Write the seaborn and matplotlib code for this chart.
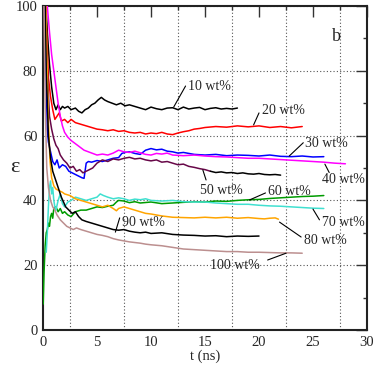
import matplotlib
matplotlib.use("Agg")
import matplotlib.pyplot as plt
import seaborn as sns
import pandas as pd

# ---- data ----
t10 = [0.05,0.2,0.4,0.6,0.8,1.0,1.2,1.4,1.6,1.8,2.0,2.3,2.6,3.0,3.3,3.6,3.9,4.2,4.5,4.8,5.1,5.4,5.7,6.0,6.4,6.8,7.2,7.6,8.0,8.5,9.0,9.5,10,10.5,11,11.5,12,12.5,13,13.5,14,14.5,15,15.5,16,16.5,17,17.5,18]
e10 = [125,105,92,82,75,70,68,69.5,68,69,68.5,69,68,68.5,67.5,67,68,68.5,69.5,70,71,71.8,71,70.5,70,69.5,70,69.2,69.5,69,68.5,68,68.8,68.3,68,68.5,68.6,68,68.8,68.2,68.5,68.7,68,68.4,68.6,68.2,68.4,68.2,68.5]

t20 = [0.1,0.3,0.5,0.7,0.9,1.1,1.3,1.5,1.7,2.0,2.3,2.6,3.0,3.5,4.0,4.5,5.0,5.5,6.0,6.5,7.0,7.5,8.0,8.5,9.0,9.5,10,10.5,11,11.5,12,12.5,13,13.5,14,14.5,15,16,17,18,19,20,21,22,23,24]
e20 = [120,95,78,72,68,65,66,67,64.5,65,64,65,64,63.5,63,62.5,62,61.8,61.5,61.8,61.3,61.5,61,60.8,61,60.5,60.8,60.6,61,60.5,60.3,60.8,61.2,61.5,62,62.2,62.5,62.8,62.6,63,62.7,63,62.5,62.8,62.4,62.8]

t30 = [0.1,0.2,0.3,0.4,0.5,0.7,0.9,1.1,1.3,1.5,1.8,2.1,2.4,2.7,3.0,3.3,3.6,3.8,4.0,4.2,4.5,5.0,5.5,6.0,6.5,7.0,7.3,7.6,8.0,8.5,9.0,9.5,10,10.5,11,11.5,12,12.5,13,14,15,16,17,18,19,20,21,22,23,24,25,26]
e30 = [115,95,75,62,58,55,52,51,52.5,50,51,50.5,49,48.5,48,47.5,47,46.8,51.5,52,51.8,52.3,52,52.5,53,53.2,54.5,54.8,55,54.5,54.2,55.5,56,55.6,55.8,55.2,55,54.6,54.8,54.2,54,54.2,53.8,54,53.9,53.7,54,53.6,53.5,53.7,53.4,53.5]

t40 = [0.2,0.4,0.6,0.8,1.0,1.2,1.4,1.6,1.8,2.0,2.3,2.6,3.0,3.4,3.8,4.2,4.6,5.0,5.5,6.0,6.5,7.0,7.5,8.0,8.5,9.0,9.5,10,10.5,11,11.5,12,13,14,15,16,17,18,19,20,21,22,23,24,25,26,27,28]
e40 = [110,100,92,85,80,75,70,66,63,61,59.5,58.5,57.5,56.5,55.5,55,54.5,54,54.3,54,54.6,55.5,55,54.8,55.2,54.7,54.2,54,54.5,54.3,54.6,54,53.8,54,53.7,53.5,53.4,53.2,53,53,52.8,52.6,52.4,52.2,52,51.8,51.5,51.3]

t50a = [0.2,0.4,0.6,0.8,1.0,1.2,1.4,1.6,1.9,2.2,2.5,2.8,3.1,3.4,3.7,4.0,4.3,4.6,5.0,5.5,6.0,6.5,7.0,7.5,8.0,8.5,9.0,9.5,10,10.5,11,11.5,12,12.5,13,13.5,14,14.5,15,15.5]
e50a = [105,80,66,62,59,57,56,54,52.5,51.5,50,50.5,49,49.5,48.5,49,49.5,50,51.5,52.5,52,52.8,52.5,53,53.3,52.8,53,52.5,52.2,52.5,51.8,52,51.5,51,51.2,50.5,50.2,49.8,49.5,49]
t50b = [15.5,16,16.5,17,17.5,18,18.5,19,19.5,20,20.5,21,21.5,22]
e50b = [49,48.6,48.8,48.5,48.6,48.3,48.5,48.2,48.1,48.3,48,47.9,48,47.8]

t60 = [0.02,0.1,0.2,0.3,0.4,0.5,0.6,0.7,0.8,0.9,1.0,1.2,1.4,1.6,1.8,2.0,2.3,2.6,3.0,3.5,4.0,4.5,5.0,5.5,6.0,6.5,6.8,7.0,7.5,8.0,8.5,9.0,10,11,12,13,14,15,16,17,18,19,20,21,22,23,24,25,26]
e60 = [8,18,26,30,31,33,32,35,36,34.5,37.5,38,36.5,37.5,36,36.5,35.5,35,36.5,37,37,37.5,38,37.8,38.2,38.5,39.5,40,39.8,39.3,39.6,39.2,39.5,39,39.2,39.4,39.6,39.5,39.8,39.7,40,40.2,40.3,40.6,40.8,41,41.2,41.3,41.5]

t70 = [0.3,0.4,0.5,0.6,0.7,0.8,0.9,1.0,1.1,1.2,1.4,1.6,1.8,2.0,2.3,2.6,3.0,3.5,4.0,4.5,5.0,5.3,5.6,6.0,6.5,7.0,7.5,8.0,8.5,9.0,9.5,10,11,12,13,14,15,16,17,18,19,20,21,22,23,24,25,26]
e70 = [24,30,38,44,46,42,44,40,38,37,40,42,39,38,39.5,40,41,40.5,40,40.5,41,42,41.5,41,40.5,40.8,40.5,40,40.4,40.2,40.5,40,39.8,40,39.6,39.5,39.5,39.2,39,38.8,38.8,38.5,38.3,38.2,38,37.8,37.6,37.5]

t80 = [0.2,0.35,0.5,0.65,0.8,1.0,1.2,1.5,1.8,2.0,2.5,3.0,3.5,4.0,4.5,5.0,5.5,6.0,6.5,6.8,7.0,7.5,8.0,8.5,9.0,9.5,10,10.5,11,12,13,14,15,16,17,18,19,20,20.5,21,21.5,21.8]
e80 = [110,85,65,52,47,44.5,43.5,43,42.5,42,41.5,40.5,40,39.5,39,38.5,38,38.5,37.5,36.8,37.5,38,37.5,37,36.5,36,35.8,35.5,35.2,34.8,34.7,34.6,34.8,34.6,34.8,34.5,34.7,34.4,34.3,34.5,34.6,34.2]

t90 = [0.1,0.3,0.5,0.7,0.9,1.1,1.3,1.5,1.7,1.9,2.1,2.4,2.7,3.0,3.3,3.6,4.0,4.5,5.0,5.5,6.0,6.5,7.0,7.5,8.0,8.5,9.0,9.5,10,11,12,13,14,15,16,17,18,19,20]
e90 = [120,80,60,53,49,47,45,43,41,39.5,38,37,36,36.5,35,34,33.5,33,32.5,32,31.5,31,30.8,31,30.5,30.2,30,30.2,29.8,30,29.5,29.3,29.2,29,29.1,28.8,29,28.9,29]

t100 = [0.05,0.2,0.35,0.5,0.7,0.9,1.1,1.3,1.6,1.9,2.2,2.5,2.8,3.1,3.5,4.0,4.5,5.0,5.5,6.0,6.5,7.0,7.5,8.0,8.5,9.0,9.5,10,11,12,13,14,15,16,17,18,19,20,21,22,23,24]
e100 = [110,70,50,44,40,38,37,35.5,34,33,32,31.5,31,31.5,31,30.5,30,29.5,29.2,28.8,28.2,27.8,27.5,27.2,27,26.8,26.5,26.3,26,25.5,25,24.8,24.6,24.4,24.2,24.2,24,24,23.9,23.8,23.8,23.7]

series = [
    (t10, e10, "#000000"),
    (t20, e20, "#ff0000"),
    (t30, e30, "#0000ff"),
    (t40, e40, "#ff00ff"),
    (t50a, e50a, "#670748"),
    (t50b, e50b, "#000000"),
    (t60, e60, "#009b00"),
    (t70, e70, "#40e0d0"),
    (t80, e80, "#ffa500"),
    (t90, e90, "#000000"),
    (t100, e100, "#bc8f8f"),
]

labels = ["10 wt%", "20 wt%", "30 wt%", "40 wt%", "50 wt%", "60 wt%",
          "70 wt%", "80 wt%", "90 wt%", "100 wt%"]
# label text position, leader start, leader end (data units)
label_pos = [(13.4, 75.3), (20.3, 67.8), (24.3, 57.5), (25.8, 46.3), (14.5, 43.2),
             (20.8, 42.9), (25.8, 33.3), (24.2, 27.5), (7.3, 33.3), (15.5, 20.0)]
leader_a = [(12.1, 68.8), (19.5, 63.3), (22.8, 53.7), (26.1, 51.2), (14.8, 49.4),
            (19.1, 40.1), (25.0, 37.3), (21.9, 33.3), (6.7, 30.2), (22.5, 23.7)]
leader_b = [(13.2, 75.3), (20.0, 67.0), (24.1, 57.8), (26.5, 48.6), (15.1, 46.3),
            (20.6, 42.3), (25.6, 34.0), (23.9, 28.7), (7.1, 34.6), (20.8, 21.6)]

sns.set_theme(style="white")
plt.rcParams["font.family"] = ["Liberation Serif", "DejaVu Serif"]
plt.rcParams["mathtext.fontset"] = "stix"

fig = plt.figure(figsize=(3.76, 3.66), dpi=100)
ax = fig.add_axes([43/376, 1-330/366, 324/376, 324/366])

for t, e, c in series:
    df = pd.DataFrame({"t": t, "e": e})
    sns.lineplot(data=df, x="t", y="e", color=c, linewidth=1.1, ax=ax,
                 estimator=None, sort=False, zorder=3)

for lab, p, a, b in zip(labels, label_pos, leader_a, leader_b):
    ax.plot([a[0], b[0]], [a[1], b[1]], color="black", lw=0.8, zorder=4)
    ax.text(p[0], p[1], lab, fontsize=10, ha="left", va="center", zorder=5,
            clip_on=False)

ax.text(27.2, 90.7, "b", fontsize=13, ha="center", va="center")

ax.set_xlim(0, 30)
ax.set_ylim(0, 100)
ax.set_xticks([0, 5, 10, 15, 20, 25, 30])
ax.set_yticks([0, 20, 40, 60, 80, 100])
ax.set_xticks([2.5, 7.5, 12.5, 17.5, 22.5, 27.5], minor=True)
ax.set_yticks([10, 30, 50, 70, 90], minor=True)
ax.tick_params(which="major", direction="in", length=8, width=1.0,
               top=True, right=True, labelsize=10.5, pad=4, color="#333333")
ax.tick_params(which="minor", direction="in", length=3, width=1.0,
               top=True, right=True, color="#333333")
ax.xaxis.grid(True, which="minor", linestyle=(0, (1, 2)), color="#555555", lw=0.8)
ax.yaxis.grid(True, which="major", linestyle=(0, (1, 2)), color="#555555", lw=0.8)
ax.xaxis.grid(False, which="major")
ax.set_axisbelow(True)
for s in ax.spines.values():
    s.set_linewidth(1.5)
    s.set_color("#222222")

ax.set_xlabel("t (ns)", fontsize=10.5, labelpad=1)
ax.set_ylabel("ε", fontsize=16, rotation=0, va="center", ha="center")
ax.yaxis.set_label_coords(-0.088, 0.503)

fig.savefig("out.png", dpi=100)
